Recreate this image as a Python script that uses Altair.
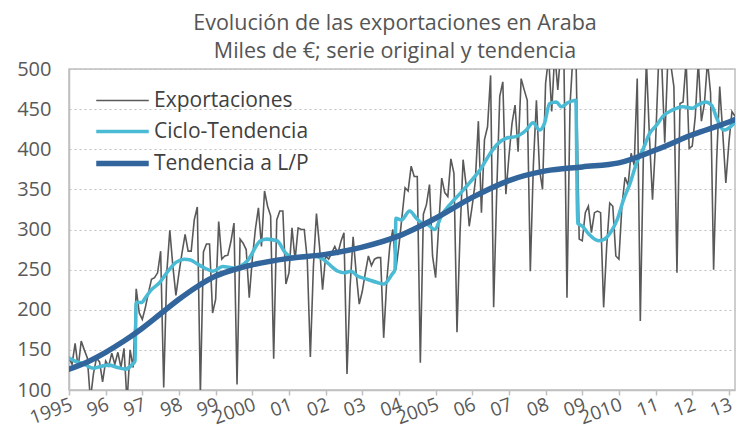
import altair as alt
import pandas as pd

# x-axis labels (one per January)
year_labels = ["1995", "96", "97", "98", "99", "2000", "01", "02", "03", "04",
               "2005", "06", "07", "08", "09", "2010", "11", "12", "13"]

# Exportaciones, monthly (miles de EUR), Jan 1995 .. Mar 2013
exp_1995 = [140, 132, 158, 128, 161, 150, 140, 88, 120, 140, 135, 110]
exp_1996 = [136, 130, 146, 132, 147, 128, 152, 85, 150, 128, 226, 196]
exp_1997 = [188, 203, 221, 238, 240, 246, 273, 103, 246, 299, 254, 218]
exp_1998 = [246, 271, 294, 273, 273, 312, 328, 95, 272, 282, 282, 196]
exp_1999 = [213, 310, 263, 267, 268, 285, 308, 107, 288, 283, 275, 215]
exp_2000 = [263, 300, 327, 279, 348, 329, 317, 139, 312, 323, 323, 232]
exp_2001 = [246, 302, 262, 302, 300, 300, 262, 141, 254, 320, 279, 225]
exp_2002 = [267, 263, 271, 279, 270, 285, 296, 120, 228, 291, 246, 207]
exp_2003 = [223, 246, 267, 255, 263, 265, 265, 165, 235, 279, 300, 250]
exp_2004 = [280, 316, 352, 348, 379, 366, 366, 134, 319, 331, 356, 267]
exp_2005 = [240, 304, 364, 346, 341, 388, 370, 172, 296, 387, 355, 304]
exp_2006 = [330, 360, 435, 321, 412, 428, 492, 203, 346, 466, 484, 344]
exp_2007 = [391, 432, 455, 397, 488, 474, 461, 248, 380, 461, 375, 350]
exp_2008 = [482, 515, 447, 520, 474, 525, 512, 215, 455, 520, 505, 288]
exp_2009 = [286, 321, 329, 296, 321, 323, 321, 203, 279, 333, 329, 267]
exp_2010 = [263, 330, 365, 355, 395, 380, 488, 186, 390, 510, 415, 337]
exp_2011 = [408, 510, 510, 408, 510, 505, 478, 246, 457, 459, 510, 401]
exp_2012 = [404, 441, 510, 435, 457, 510, 470, 250, 387, 478, 420, 358]
exp_2013 = [408, 447, 441]

# Ciclo-Tendencia: month index (0 = Jan 1995) and value
ciclo_mes = [0, 2, 5, 8, 10, 13, 16, 18.5, 20.5, 21.6, 22, 23.8, 25, 27, 29.7,
             32.4, 35, 37.7, 39.8, 42, 44.4, 47.1, 50.3, 54.1, 58.4, 62.7, 64.8,
             68.1, 70.8, 73.5, 76.7, 80, 83.2, 86.5, 88, 90.1, 92.3, 94.4, 97.6,
             100.9, 103, 105.7, 106.7, 107, 108.8, 111.5, 113.7, 115.5, 117.5,
             119.7, 121.9, 125.1, 128.3, 131.5, 134.7, 137.9, 140.1, 143.3,
             146.5, 149.7, 151.9, 154, 155.7, 157.3, 159.5, 161.1, 163.3, 165.9,
             166.5, 168.1, 170.2, 173.4, 175.3, 177.2, 179.4, 181.5, 183.7,
             185.8, 188, 190.1, 192.3, 194.4, 197.6, 200.9, 204.1, 205.7, 208.4,
             210.3, 212.2, 214.3, 216.5, 218]
ciclo_val = [140, 136, 132, 127, 129, 131, 128, 126, 131, 136, 209, 209, 215,
             225, 234, 248, 259, 263, 262, 257, 252, 248, 254, 252, 261, 286,
             288, 286, 271, 265, 265, 267, 263, 252, 248, 246, 248, 242, 238,
             234, 232, 244, 250, 314, 312, 323, 314, 308, 306, 300, 317, 333,
             346, 360, 375, 395, 406, 414, 416, 424, 433, 424, 433, 457, 459,
             453, 458, 461, 308, 304, 294, 286, 288, 296, 312, 337, 358, 383,
             401, 420, 430, 441, 449, 453, 451, 455, 459, 455, 437, 424, 428,
             434]

# Tendencia a L/P
lp_mes = [0, 6, 12, 18, 24, 30, 36, 42, 48, 54, 60, 72, 84, 96, 108, 120, 132,
          144, 156, 168, 180, 192, 204, 216, 218]
lp_val = [126, 135, 147, 161, 177, 195, 213, 229, 242, 250, 256, 264, 269, 278,
          292, 314, 340, 361, 373, 378, 383, 399, 418, 434, 437]

series_names = ["Exportaciones", "Ciclo-Tendencia", "Tendencia a L/P"]
series_colors = ["#595959", "#4BBBD5", "#31659C"]
series_widths = [1.6, 5.5, 5]

exportaciones = (exp_1995 + exp_1996 + exp_1997 + exp_1998 + exp_1999 + exp_2000
                 + exp_2001 + exp_2002 + exp_2003 + exp_2004 + exp_2005 + exp_2006
                 + exp_2007 + exp_2008 + exp_2009 + exp_2010 + exp_2011 + exp_2012
                 + exp_2013)

rows = []
for i, v in enumerate(exportaciones):
    rows.append({"mes": i, "valor": v, "serie": series_names[0], "o": 0})
for m, v in zip(ciclo_mes, ciclo_val):
    rows.append({"mes": m, "valor": v, "serie": series_names[1], "o": 1})
for m, v in zip(lp_mes, lp_val):
    rows.append({"mes": m, "valor": v, "serie": series_names[2], "o": 2})
df = pd.DataFrame(rows)

FONT = "Open Sans"
GRID = "#BFBFBF"
label_js = "[" + ",".join("'%s'" % s for s in year_labels) + "]"

x_enc = alt.X(
    "mes:Q",
    scale=alt.Scale(domain=[0, 218], nice=False, zero=False),
    axis=alt.Axis(
        values=list(range(0, 217, 12)),
        labelExpr=label_js + "[round(datum.value / 12)]",
        labelAngle=340, labelAlign="right", labelBaseline="top",
        labelFont=FONT, labelFontSize=19, labelColor="#595959",
        labelPadding=0, labelOffset=-1, tickSize=5, tickColor=GRID,
        tickWidth=1.5, domainColor=GRID, domainWidth=1.5, grid=False,
        title=None, labelOverlap=False, labelBound=False, labelFlush=False,
    ),
)
y_enc = alt.Y(
    "valor:Q",
    scale=alt.Scale(domain=[100, 500], nice=False, zero=False),
    axis=alt.Axis(
        values=list(range(100, 501, 50)),
        labelFont=FONT, labelFontSize=20, labelColor="#595959",
        ticks=False, labelPadding=18, domainColor=GRID, domainWidth=1.5,
        gridColor=GRID, gridDash=[2, 3], gridWidth=1.2, title=None,
    ),
)
color_enc = alt.Color(
    "serie:N",
    scale=alt.Scale(domain=series_names, range=series_colors),
    title=None,
    legend=alt.Legend(
        orient="none", legendX=40, legendY=20, padding=0,
        symbolType="M-2.5,0H2.5", symbolSize=441, labelOffset=18,
        labelFont=FONT, labelFontSize=21, labelColor="#404040",
        rowPadding=8, labelLimit=300,
    ),
)
width_enc = alt.StrokeWidth(
    "serie:N",
    scale=alt.Scale(domain=series_names, range=series_widths),
    title=None,
)

base = alt.Chart(df)
gray = base.transform_filter(alt.datum.o == 0).mark_line(
    interpolate="linear", clip=True
).encode(x=x_enc, y=y_enc, color=color_enc, strokeWidth=width_enc, order="mes:Q")
blue = base.transform_filter(alt.datum.o > 0).mark_line(
    interpolate="monotone", clip=True, strokeCap="round"
).encode(x=x_enc, y=y_enc, color=color_enc, strokeWidth=width_enc, order="mes:Q")

chart = alt.layer(gray, blue).properties(
    width=666,
    height=321,
    autosize=alt.AutoSizeParams(type="none"),
    padding={"left": 61, "top": 61, "right": 3, "bottom": 39},
    title=alt.TitleParams(
        ["Evolución de las exportaciones en Araba",
         "Miles de €; serie original y tendencia"],
        font=FONT, fontSize=21.5, fontWeight="normal", color="#555555",
        anchor="middle", offset=1, lineHeight=28, dx=-7, dy=4,
    ),
).configure_view(stroke=GRID, strokeWidth=1.5)

chart.save("out.html", embed_options={"renderer": "svg", "actions": False})
